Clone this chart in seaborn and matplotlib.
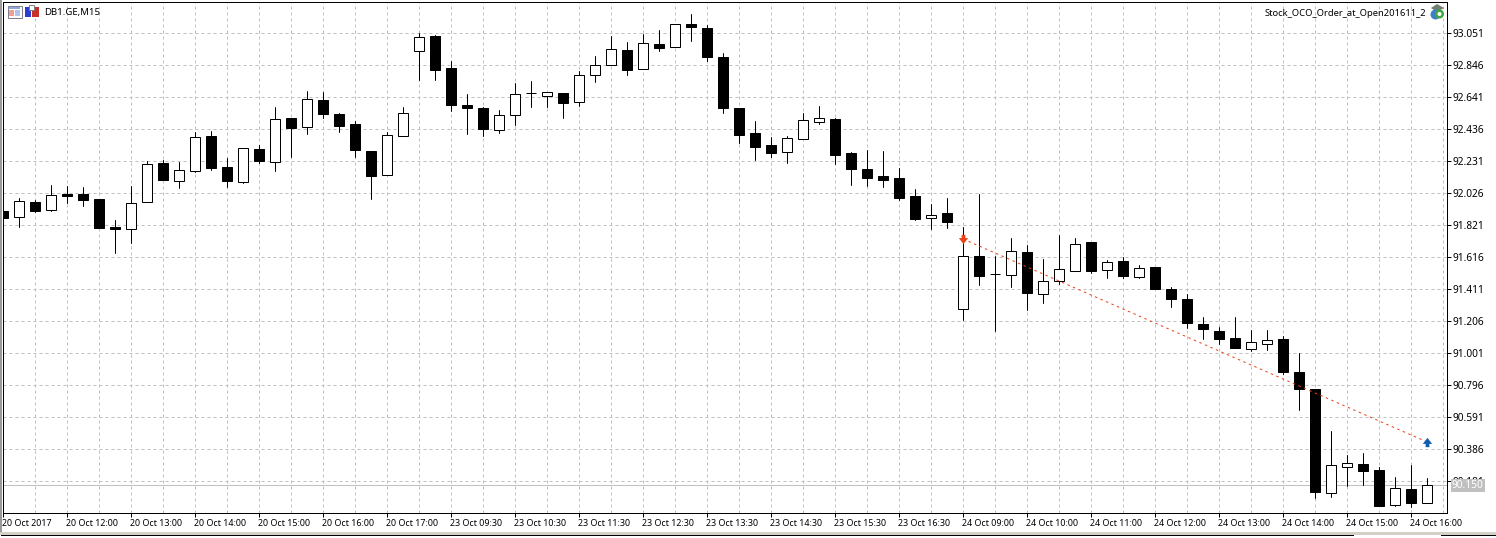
import numpy as np
import pandas as pd
import matplotlib
matplotlib.use("Agg")
import matplotlib.pyplot as plt
from matplotlib.patches import Rectangle, Circle, Polygon
from matplotlib.transforms import ScaledTranslation
import seaborn as sns

# -----------------------------
# 1. Chart values
# -----------------------------
opens = [91.908, 91.872, 91.966, 91.917, 92.017, 92.017, 91.985, 91.806, 91.795, 91.964,
         92.216, 92.102, 92.166, 92.389, 92.190, 92.096, 92.306, 92.224, 92.504, 92.448,
         92.619, 92.530, 92.466, 92.293, 92.141, 92.391, 92.935, 93.029, 92.824, 92.587,
         92.568, 92.429, 92.525, 92.662, 92.647, 92.664, 92.609, 92.781, 92.846, 92.940,
         92.820, 92.978, 92.961, 93.106, 93.081, 92.895, 92.568, 92.408, 92.331, 92.288,
         92.371, 92.480, 92.498, 92.280, 92.177, 92.133, 92.120, 92.004, 91.865, 91.896,
         91.279, 91.620, 91.503, 91.500, 91.646, 91.379, 91.462, 91.526, 91.710, 91.532,
         91.588, 91.487, 91.550, 91.409, 91.345, 91.184, 91.140, 91.095, 91.026, 91.058,
         91.088, 90.877, 90.768, 90.104, 90.270, 90.288, 90.249, 90.027, 90.127, 90.040]
highs = [91.908, 91.990, 91.979, 92.075, 92.068, 92.062, 91.985, 91.851, 92.068, 92.227,
         92.235, 92.222, 92.414, 92.421, 92.248, 92.310, 92.331, 92.575, 92.504, 92.677,
         92.671, 92.536, 92.485, 92.293, 92.414, 92.575, 93.049, 93.036, 92.869, 92.658,
         92.575, 92.555, 92.728, 92.741, 92.671, 92.664, 92.805, 92.901, 93.029, 92.991,
         93.042, 93.068, 93.104, 93.170, 93.100, 92.920, 92.568, 92.485, 92.382, 92.389,
         92.536, 92.581, 92.504, 92.286, 92.299, 92.293, 92.184, 92.049, 91.953, 91.992,
         91.806, 92.017, 91.618, 91.735, 91.691, 91.601, 91.755, 91.735, 91.710, 91.594,
         91.614, 91.562, 91.550, 91.421, 91.377, 91.229, 91.165, 91.229, 91.146, 91.146,
         91.108, 90.999, 90.768, 90.499, 90.345, 90.358, 90.268, 90.204, 90.281, 90.198]
lows = [91.863, 91.808, 91.902, 91.910, 91.961, 91.942, 91.799, 91.641, 91.703, 91.964,
        92.107, 92.058, 92.158, 92.171, 92.062, 92.090, 92.216, 92.165, 92.254, 92.402,
        92.504, 92.414, 92.254, 91.985, 92.141, 92.391, 92.748, 92.748, 92.549, 92.402,
        92.389, 92.408, 92.459, 92.575, 92.575, 92.504, 92.581, 92.735, 92.846, 92.780,
        92.820, 92.933, 92.961, 92.997, 92.869, 92.536, 92.344, 92.235, 92.254, 92.216,
        92.371, 92.466, 92.209, 92.075, 92.068, 92.062, 91.979, 91.851, 91.793, 91.799,
        91.210, 91.434, 91.140, 91.421, 91.274, 91.319, 91.439, 91.526, 91.511, 91.479,
        91.479, 91.479, 91.409, 91.293, 91.159, 91.088, 91.056, 91.031, 91.012, 91.018,
        90.864, 90.634, 90.070, 90.078, 90.147, 90.153, 90.019, 90.020, 90.012, 90.040]
closes = [91.863, 91.970, 91.910, 92.009, 92.006, 91.979, 91.799, 91.795, 91.958, 92.207,
          92.107, 92.169, 92.380, 92.184, 92.101, 92.310, 92.229, 92.496, 92.440, 92.624,
          92.530, 92.453, 92.299, 92.133, 92.393, 92.534, 93.021, 92.812, 92.587, 92.568,
          92.434, 92.521, 92.656, 92.662, 92.669, 92.600, 92.778, 92.842, 92.944, 92.812,
          92.983, 92.953, 93.104, 93.087, 92.895, 92.568, 92.395, 92.318, 92.280, 92.374,
          92.489, 92.502, 92.267, 92.177, 92.120, 92.107, 91.992, 91.857, 91.881, 91.838,
          91.618, 91.492, 91.503, 91.650, 91.383, 91.458, 91.535, 91.695, 91.524, 91.580,
          91.492, 91.541, 91.409, 91.345, 91.191, 91.152, 91.088, 91.031, 91.067, 91.080,
          90.877, 90.768, 90.108, 90.279, 90.292, 90.243, 90.019, 90.132, 90.038, 90.151]

price_ticks = [93.051, 92.846, 92.641, 92.436, 92.231, 92.026, 91.821, 91.616,
               91.411, 91.206, 91.001, 90.796, 90.591, 90.386, 90.181]
time_labels = ["20 Oct 2017", "20 Oct 12:00", "20 Oct 13:00", "20 Oct 14:00", "20 Oct 15:00",
               "20 Oct 16:00", "20 Oct 17:00", "23 Oct 09:30", "23 Oct 10:30", "23 Oct 11:30",
               "23 Oct 12:30", "23 Oct 13:30", "23 Oct 14:30", "23 Oct 15:30", "23 Oct 16:30",
               "24 Oct 09:00", "24 Oct 10:00", "24 Oct 11:00", "24 Oct 12:00", "24 Oct 13:00",
               "24 Oct 14:00", "24 Oct 15:00", "24 Oct 16:00"]

# order arrows: entry bar/price and exit bar/price
order_bars = [60, 89]
order_prices = [91.729, 90.429]
last_price = 90.150

# -----------------------------
# 2. Frames for seaborn
# -----------------------------
n_bars = len(opens)
bars = np.arange(n_bars)
wicks = pd.DataFrame({"bar": np.r_[bars, bars], "price": np.r_[highs, lows]})
order = pd.DataFrame({"bar": order_bars, "price": order_prices})

# -----------------------------
# 3. Figure
# -----------------------------
sns.set_style("white")
plt.rcParams["font.family"] = ["Noto Sans", "DejaVu Sans"]

W, H = 1496, 538
fig = plt.figure(figsize=(W / 100, H / 100), dpi=100, facecolor="white")
ax = fig.add_axes([3.0 / W, 1 - 512.5 / H, 1444 / W, 511 / H])

LW = 0.72  # one pixel
GRID = "#c0c0c0"

sns.lineplot(data=wicks, x="bar", y="price", units="bar", estimator=None,
             color="black", linewidth=LW, zorder=2, ax=ax, legend=False)

o = np.array(opens)
c = np.array(closes)
body_colors = np.where(c > o, "white", "black")
ax.bar(bars, np.abs(c - o), bottom=np.minimum(o, c), width=0.6, color=body_colors,
       edgecolor="black", linewidth=LW, zorder=3)

sns.lineplot(data=order, x="bar", y="price", color="#e8431a", linewidth=LW,
             linestyle=(0, (2.5, 3.5)), zorder=4, ax=ax, legend=False)

arrow_down = [(-0.5, 0.15), (-0.2, 0.15), (-0.2, 0.5), (0.2, 0.5), (0.2, 0.15), (0.5, 0.15), (0, -0.5)]
arrow_up = [(x, -y) for x, y in arrow_down]
sns.scatterplot(x=order_bars[:1], y=order_prices[:1], marker=arrow_down, color="#e8431a",
                s=45, linewidth=0, zorder=5, ax=ax, legend=False)
sns.scatterplot(x=order_bars[1:], y=order_prices[1:], marker=arrow_up, color="#0f5fb0",
                s=45, linewidth=0, zorder=5, ax=ax, legend=False)

ax.axhline(last_price, color=GRID, linewidth=LW, zorder=1.5)

ax.set_xlim(0, 90.25)
ax.set_ylim(89.977, 93.250)
ax.set_xlabel("")
ax.set_ylabel("")

ax.set_xticks(bars[::4][:len(time_labels)])
ax.set_xticklabels(time_labels, ha="left")
ax.set_xticks(np.arange(2, 90.25, 4), minor=True)
ax.yaxis.tick_right()
ax.set_yticks(price_ticks)
ax.set_yticklabels([f"{p:.3f}" for p in price_ticks])

ax.set_axisbelow(True)
ax.grid(True, which="both", color=GRID, linewidth=LW, linestyle=(0, (3, 3)))
ax.tick_params(axis="y", which="major", length=3, width=LW, color="black",
               labelsize=7.3, labelcolor="black", pad=0.9, right=True)
ax.tick_params(axis="x", which="major", length=3, width=LW, color="black",
               labelsize=6.45, labelcolor="black", pad=1.6, bottom=True)
ax.tick_params(axis="x", which="minor", length=0)
shift_left = ScaledTranslation(-1 / 100, 0, fig.dpi_scale_trans)
for label in ax.get_xticklabels():
    label.set_transform(label.get_transform() + shift_left)
for spine in ax.spines.values():
    spine.set_visible(True)
    spine.set_color("black")
    spine.set_linewidth(LW)

# last price tag sits on top of the neighbouring tick label
ax.annotate(f"{last_price:.3f}", xy=(1, last_price), xycoords=("axes fraction", "data"),
            xytext=(3.6, 0), textcoords="offset points", va="center", ha="left",
            fontsize=7.3, color="white", zorder=10, annotation_clip=False,
            bbox=dict(facecolor=GRID, edgecolor="none", pad=1.0))

# -----------------------------
# 4. Header texts, icons, window edge
# -----------------------------
fig.text(44 / W, 1 - 12.5 / H, "DB1.GE,M15", fontsize=6.9, va="center", ha="left", color="black")
fig.text(1426 / W, 1 - 13.5 / H, "Stock_OCO_Order_at_Open201611_2", fontsize=6.75,
         va="center", ha="right", color="black")


def box(x, y, w, h, color, edge="none"):
    fig.add_artist(Rectangle((x / W, 1 - (y + h) / H), w / W, h / H, facecolor=color,
                             edgecolor=edge, linewidth=LW, transform=fig.transFigure))


def dot(x, y, r, color):
    fig.add_artist(Circle((x, H - y), r, facecolor=color, edgecolor="none", transform=None))


# table icon
box(7.5, 5.5, 14, 12, "white", "#7f7f8f")
box(9, 7, 11, 2, "#8fa8e0")
box(9, 10, 5, 6, "#f0a090")
box(15, 10, 5, 6, "#b0c4ee")
# blue and red pages
box(24.5, 7, 6.5, 10, "#2a3fd0")
box(32, 7, 6.5, 10, "#c8302a")
box(29, 5, 5, 5, "white", "#808080")

# expert icon
fig.add_artist(Polygon([(1431 / W, 1 - 8 / H), (1437 / W, 1 - 4 / H), (1444 / W, 1 - 8 / H), (1437 / W, 1 - 12 / H)],
                       facecolor="#6f7f70", edgecolor="none", transform=fig.transFigure))
dot(1435.5, 14.5, 5, "#3f7fc8")
dot(1439.5, 14, 4.5, "#3fa83f")
dot(1439.5, 14, 2, "white")

# window edge
box(0, 0, 1.5, 532, "#9a9a9a")
box(0, 532, W, 3, "#d4d0c8")
box(0, 535, 1354, 3, "white")
box(1, 535, 1353, 1, "black")
box(1441, 535, W - 1441, 1, "black")

fig.savefig("out.png", dpi=100, facecolor="white")
